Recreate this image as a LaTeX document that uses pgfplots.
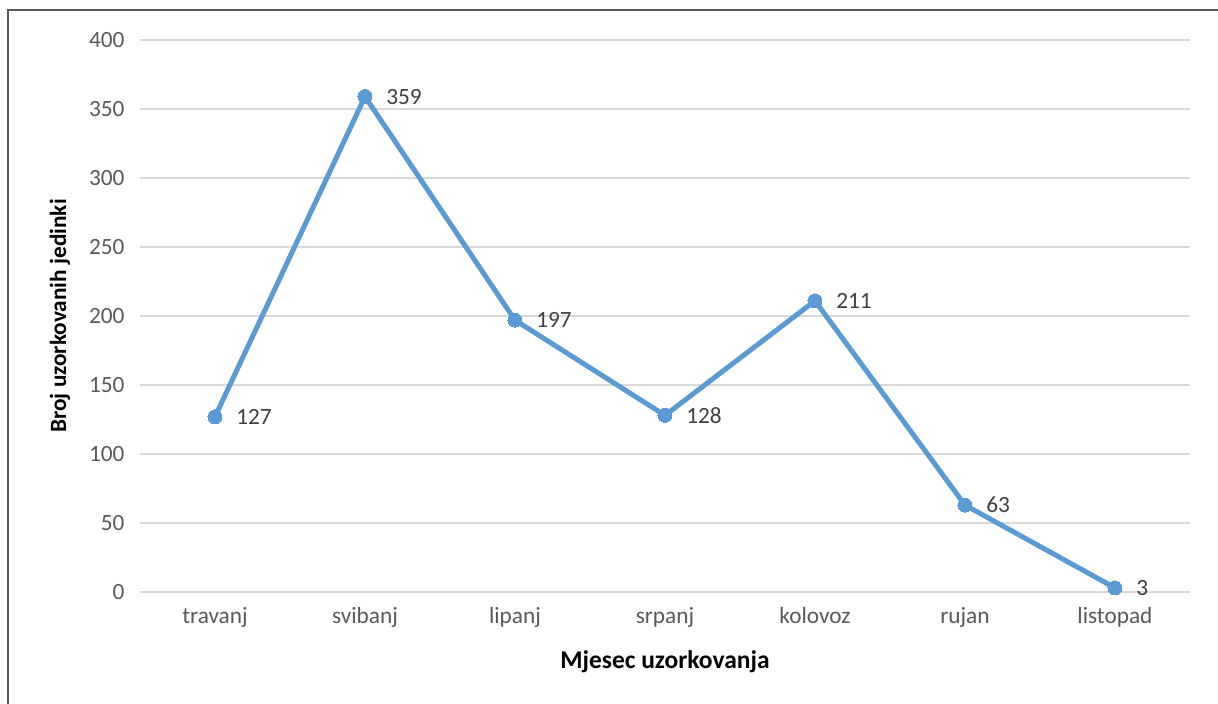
\documentclass[border=0pt]{standalone}
\usepackage{pgfplots}
\pgfplotsset{compat=1.18}
\usepackage{fontspec}
\setmainfont{Carlito}
\definecolor{serieblue}{HTML}{5B9BD5}
\definecolor{gridgray}{HTML}{D9D9D9}
\definecolor{ticktext}{HTML}{595959}
\definecolor{labeltext}{HTML}{404040}
\definecolor{framegray}{HTML}{595959}
\begin{document}
\begin{tikzpicture}[x=1pt,y=1pt]
\path[use as bounding box] (0,0) rectangle (1218,704);
\draw[color=framegray, line width=1.2pt] (8,0) -- (8,694) -- (1218,694);
\begin{axis}[
  at={(140pt,112pt)}, anchor=south west,
  scale only axis, width=1050pt, height=552pt,
  xmin=-0.5, xmax=6.5, ymin=0, ymax=400,
  ytick={0,50,...,400}, xtick={0,...,6},
  xticklabels={travanj,svibanj,lipanj,srpanj,kolovoz,rujan,listopad},
  axis line style={draw=none}, major tick style={draw=none},
  ymajorgrids, grid style={color=gridgray, line width=1.5pt},
  /pgf/number format/assume math mode=true,
  ticklabel style={font=\fontsize{23.3}{27}\selectfont, text=ticktext},
  yticklabel style={xshift=-12pt},
  xticklabel style={yshift=-12pt},
  xlabel={Mjesec uzorkovanja}, ylabel={Broj uzorkovanih jedinki},
  every axis x label/.style={at={(axis description cs:0.5,0)}, yshift=-70pt, anchor=center, font=\fontsize{25.5}{30}\selectfont\bfseries, text=black},
  every axis y label/.style={at={(axis description cs:0,0.5)}, xshift=-80pt, anchor=center, rotate=90, font=\fontsize{23.3}{27}\selectfont\bfseries, text=black},
  clip=false,
]
\addplot[color=serieblue, line width=5pt, mark=*, mark size=7pt, mark options={fill=serieblue, draw=serieblue, line width=0pt},
  nodes near coords, every node near coord/.append style={anchor=west, xshift=18pt, font=\fontsize{23.3}{27}\selectfont, text=labeltext},
  point meta=explicit symbolic]
coordinates {
(0,127) [127]
(1,359) [359]
(2,197) [197]
(3,128) [128]
(4,211) [211]
(5,63) [63]
(6,3) [3]
};
\end{axis}
\end{tikzpicture}
\end{document}
